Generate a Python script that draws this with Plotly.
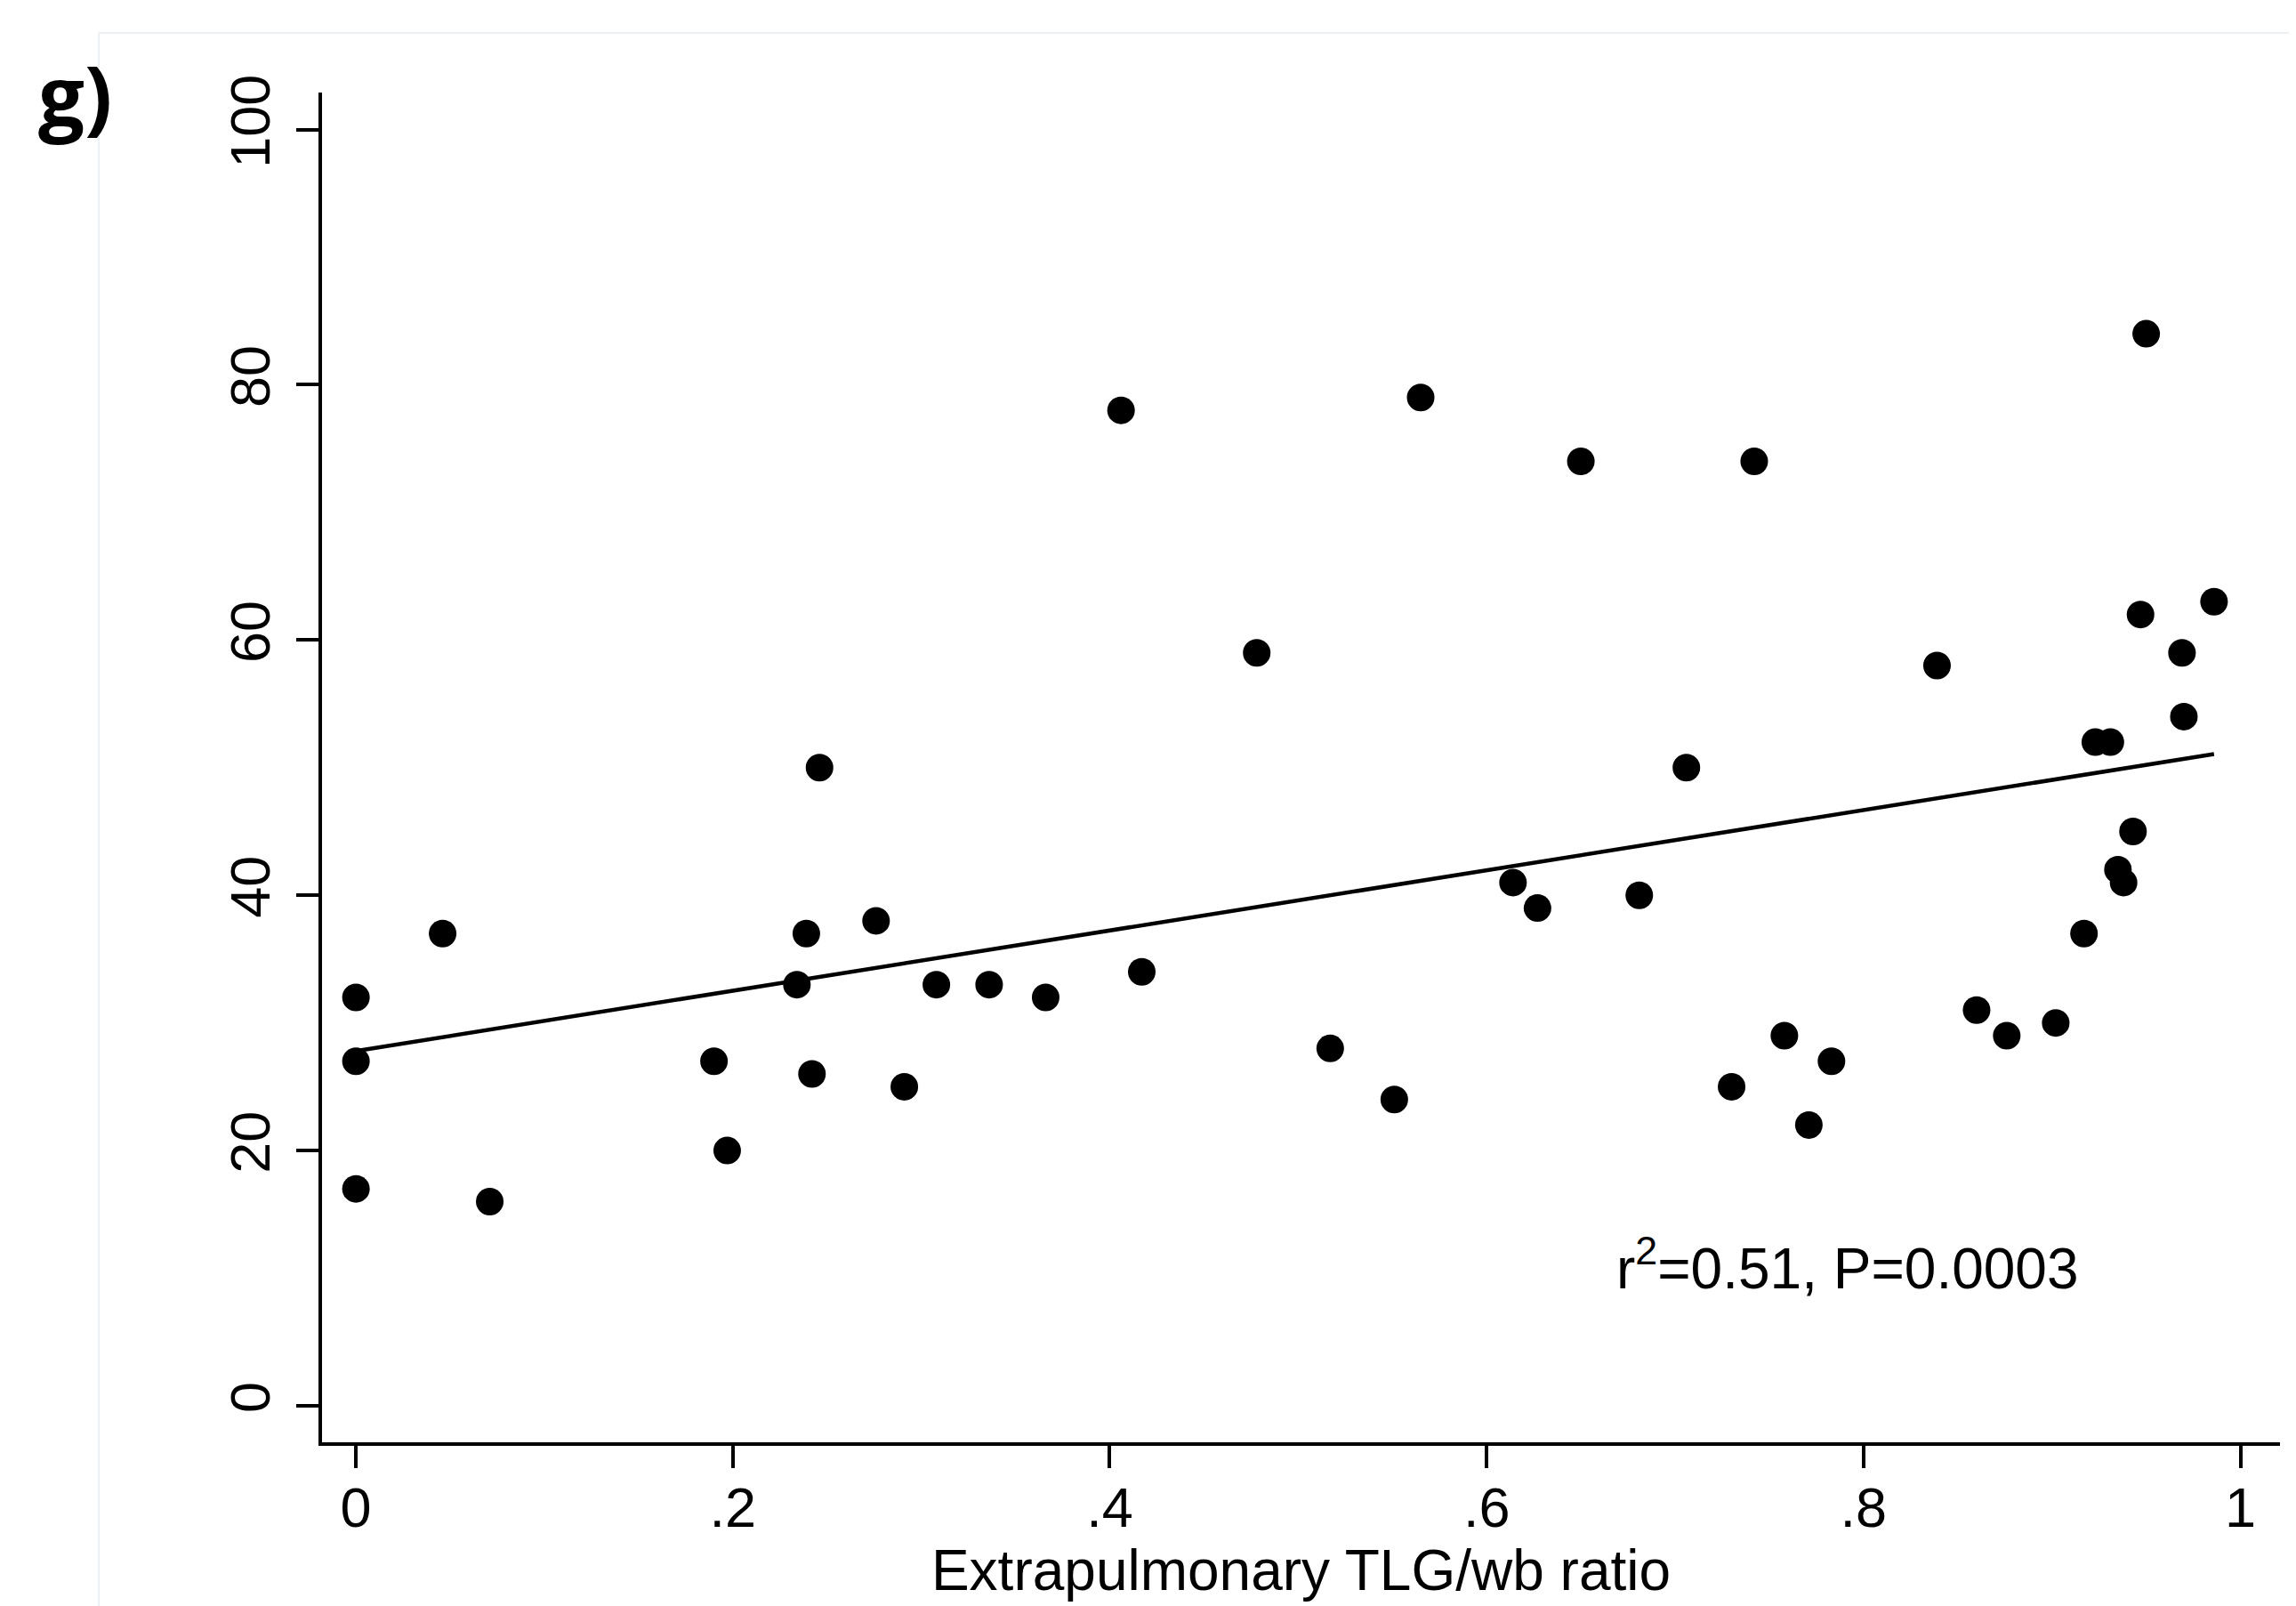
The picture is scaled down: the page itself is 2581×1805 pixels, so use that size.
import plotly.graph_objects as go

# Data
ratio = [0.000, 0.000, 0.000, 0.046, 0.071, 0.190, 0.197, 0.234, 0.239, 0.242,
         0.246, 0.276, 0.291, 0.308, 0.336, 0.366, 0.406, 0.417, 0.478, 0.517,
         0.551, 0.565, 0.614, 0.627, 0.650, 0.681, 0.706, 0.730, 0.742, 0.758,
         0.771, 0.783, 0.839, 0.860, 0.876, 0.902, 0.917, 0.923, 0.931, 0.935,
         0.938, 0.943, 0.947, 0.950, 0.969, 0.970, 0.986]
value = [32, 27, 17, 37, 16, 27, 20, 33, 37, 26,
         50, 38, 25, 33, 33, 32, 78, 34, 59, 28,
         24, 79, 41, 39, 74, 40, 50, 25, 74, 29,
         22, 27, 58, 31, 29, 30, 37, 52, 52, 42,
         41, 45, 62, 84, 59, 54, 63]

fit_intercept = 27.8
fit_slope = 23.6

x_tickvals = [0, 0.2, 0.4, 0.6, 0.8, 1]
x_ticktext = ["0", ".2", ".4", ".6", ".8", "1"]
y_tickvals = [0, 20, 40, 60, 80, 100]
y_ticktext = ["0", "20", "40", "60", "80", "100"]

fit_x = [min(ratio), max(ratio)]
fit_y = [fit_intercept + fit_slope * v for v in fit_x]

FONT = "Liberation Sans, Arial, sans-serif"

# plot area in page pixels (page body has an 8px margin)
PL, PT, PW, PH = 362, 104, 2201, 1517
BODY = 8


def px_x(px):
    return (px - PL) / PW


def px_y(py):
    return 1 - (py - PT) / PH


fig = go.Figure()
fig.add_trace(go.Scatter(
    x=ratio, y=value, mode="markers",
    marker=dict(color="black", size=31, line=dict(width=0)),
    showlegend=False, hoverinfo="x+y"))
fig.add_trace(go.Scatter(
    x=fit_x, y=fit_y, mode="lines",
    line=dict(color="black", width=4.5),
    showlegend=False))

fig.update_layout(
    width=2581, height=1805,
    margin=dict(l=PL - BODY, r=2581 - PL - PW + BODY, t=PT - BODY,
                b=1805 - PT - PH + BODY, pad=0),
    paper_bgcolor="white", plot_bgcolor="white",
    font=dict(family=FONT, color="black", size=63),
    xaxis=dict(
        range=[-0.018, 1.021], showgrid=False, zeroline=False,
        showline=True, linecolor="black", linewidth=3.5,
        ticks="outside", ticklen=25, tickwidth=3.5, tickcolor="black",
        tickvals=x_tickvals, ticktext=x_ticktext,
        tickfont=dict(size=63), ticklabelstandoff=-9,
        title=dict(text="Extrapulmonary TLG/wb ratio", font=dict(size=64), standoff=0),
    ),
    yaxis=dict(
        range=[-2.86, 102.9], showgrid=False, zeroline=False,
        showline=True, linecolor="black", linewidth=3.5,
        ticks="outside", ticklen=25, tickwidth=3.5, tickcolor="black",
        tickvals=y_tickvals, ticktext=y_ticktext, tickangle=-90,
        tickfont=dict(size=63), ticklabelstandoff=5,
    ),
    annotations=[
        dict(text="r<sup>2</sup>=0.51, P=0.0003", x=0.668, y=11.1,
             xref="x", yref="y", xanchor="left", yanchor="middle",
             showarrow=False, font=dict(size=64, family=FONT)),
        dict(text="<b>g)</b>", x=px_x(84), y=px_y(106),
             xref="paper", yref="paper", xanchor="center", yanchor="middle",
             showarrow=False, font=dict(size=92, family="Open Sans, sans-serif")),
    ],
    shapes=[
        dict(type="line", xref="paper", yref="paper",
             x0=px_x(111), x1=px_x(2600), y0=px_y(37), y1=px_y(37),
             line=dict(color="#eef1f4", width=2)),
        dict(type="line", xref="paper", yref="paper",
             x0=px_x(111), x1=px_x(111), y0=px_y(1820), y1=px_y(37),
             line=dict(color="#eef1f4", width=2)),
    ],
)

fig.write_html("out.html")
